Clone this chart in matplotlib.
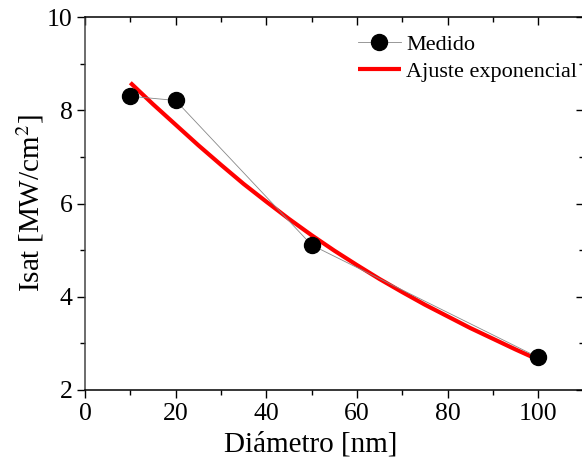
import matplotlib
matplotlib.use("Agg")
import matplotlib.pyplot as plt
from matplotlib.ticker import MultipleLocator

# Measured saturation intensity vs particle diameter
diametro = [10, 20, 50, 100]
isat_medido = [8.30, 8.21, 5.11, 2.70]

# Exponential fit curve, sampled along its length
diametro_ajuste = [10, 15, 20, 25, 30, 35, 40, 45, 50, 55,
                   60, 65, 70, 75, 80, 85, 90, 95, 100]
isat_ajuste = [8.59, 8.13, 7.69, 7.25, 6.83, 6.42, 6.04, 5.67, 5.32, 4.99,
               4.68, 4.38, 4.10, 3.83, 3.58, 3.33, 3.10, 2.87, 2.65]

plt.rcParams["font.family"] = ["Liberation Serif", "DejaVu Serif"]
plt.rcParams["mathtext.fontset"] = "stix"

fig = plt.figure(figsize=(5.82, 4.66), dpi=100)
W, H = 582, 466
left, right, top, bottom = 85, 583.5, 17, 390
ax = fig.add_axes([left / W, 1 - bottom / H, (right - left) / W, (bottom - top) / H])

ax.plot(diametro, isat_medido, color="#888888", lw=0.6, marker="o",
        markersize=11.5, markerfacecolor="black", markeredgecolor="black",
        label="Medido", zorder=3)
ax.plot(diametro_ajuste, isat_ajuste, color="#ff0000", lw=3.0,
        solid_joinstyle="round", solid_capstyle="butt",
        label="Ajuste exponencial", zorder=2)

ax.set_xlim(0, 110)
ax.set_ylim(2, 10)
ax.xaxis.set_major_locator(MultipleLocator(20))
ax.xaxis.set_minor_locator(MultipleLocator(10))
ax.yaxis.set_major_locator(MultipleLocator(2))
ax.yaxis.set_minor_locator(MultipleLocator(1))

ax.tick_params(which="both", bottom=True, left=True, top=False, right=False,
               direction="out", labelsize=18.5, width=1.0, colors="black")
ax.tick_params(which="major", length=6, pad=3)
ax.tick_params(which="minor", length=3.5)

# mirrored inward ticks on the top and right
sec_x = ax.secondary_xaxis("top")
sec_x.xaxis.set_major_locator(MultipleLocator(20))
sec_x.xaxis.set_minor_locator(MultipleLocator(10))
sec_x.tick_params(which="both", direction="in", labeltop=False, width=1.0)
sec_x.tick_params(which="major", length=6)
sec_x.tick_params(which="minor", length=3.5)
sec_x.spines["top"].set_visible(False)

sec_y = ax.secondary_yaxis("right")
sec_y.yaxis.set_major_locator(MultipleLocator(2))
sec_y.yaxis.set_minor_locator(MultipleLocator(1))
sec_y.tick_params(which="both", direction="in", labelright=False, width=1.0)
sec_y.tick_params(which="major", length=6)
sec_y.tick_params(which="minor", length=3.5)
sec_y.spines["right"].set_visible(False)

for s in ax.spines.values():
    s.set_linewidth(1.1)
ax.spines["left"].set_color("#444444")

ax.set_xlabel("Diámetro [nm]", fontsize=21)
ax.set_ylabel(r"Isat [MW/cm$^2$]", fontsize=21)
ax.xaxis.set_label_coords(0.453, -0.110)
ax.yaxis.set_label_coords(-0.078, 0.50)

leg = ax.legend(loc="upper left", bbox_to_anchor=(0.52, 0.99), frameon=False,
                fontsize=16, handlelength=1.95, handletextpad=0.25,
                labelspacing=0.3, borderaxespad=0.2)

fig.savefig("out.png", dpi=100)
